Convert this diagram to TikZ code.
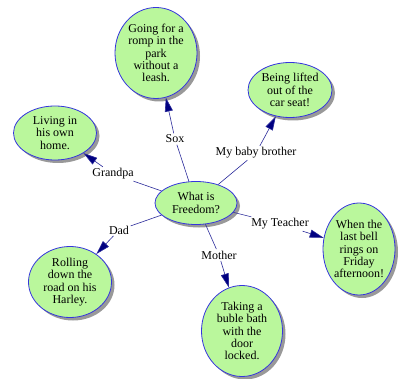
\documentclass[tikz,border=0pt]{standalone}
\usepackage{fontspec}
\setmainfont{Liberation Serif}
\usetikzlibrary{shapes.geometric,shadows,arrows.meta}
\definecolor{bubfill}{HTML}{BAF79C}
\definecolor{bubdraw}{HTML}{3535DD}
\definecolor{linkcol}{HTML}{2A2A9A}
\definecolor{tipcol}{HTML}{000080}
\tikzset{
  bubble/.style={ellipse, draw=bubdraw, line width=0.8pt, fill=bubfill, inner sep=0pt,
    align=center, font=\fontsize{12}{12.3}\selectfont,
    drop shadow={shadow xshift=3pt, shadow yshift=-3pt, fill=black!40, opacity=1}},
  linklabel/.style={inner sep=1.5pt, font=\fontsize{12}{12.3}\selectfont},
  link/.style={draw=linkcol, line width=0.6pt},
  arrowlink/.style={link, -{Triangle[length=14pt,width=8pt,fill=tipcol]}}
}
\begin{document}
\begin{tikzpicture}[x=1pt,y=-1pt]
\useasboundingbox (0,0) rectangle (398,379);
\node[bubble, minimum width=82pt, minimum height=43pt] (center) at (196,203) {What is\\Freedom?};
\node[bubble, minimum width=82pt, minimum height=91pt] (sox) at (156,53) {Going for a\\romp in the\\park\\without a\\leash.};
\node[bubble, minimum width=83pt, minimum height=54pt] (grandpa) at (55,133) {Living in\\his own\\home.};
\node[bubble, minimum width=84pt, minimum height=55pt] (baby) at (290,90) {Being lifted\\out of the\\car seat!};
\node[bubble, minimum width=83pt, minimum height=71pt] (dad) at (70,282) {Rolling\\down the\\road on his\\Harley.};
\node[bubble, minimum width=72pt, minimum height=92pt] (teacher) at (359,249) {When the\\last bell\\rings on\\Friday\\afternoon!};
\node[bubble, minimum width=81pt, minimum height=91pt] (mother) at (242,331) {Taking a\\buble bath\\with the\\door\\locked.};

\node[linklabel] (lsox) at (175,139) {Sox};
\node[linklabel] (lgrandpa) at (113,174) {Grandpa};
\node[linklabel] (lbaby) at (256,153) {My baby brother};
\node[linklabel] (ldad) at (119,230) {Dad};
\node[linklabel] (lteacher) at (280,224) {My Teacher};
\node[linklabel] (lmother) at (219,255) {Mother};

\draw[link] (center) -- (lsox);
\draw[arrowlink] (lsox) -- (sox);
\draw[link] (center) -- (lgrandpa);
\draw[arrowlink] (lgrandpa) -- (grandpa);
\draw[link] (center) -- (lbaby);
\draw[arrowlink] (lbaby) -- (baby);
\draw[link] (center) -- (ldad);
\draw[arrowlink] (ldad) -- (dad);
\draw[link] (center) -- (lteacher);
\draw[arrowlink] (lteacher) -- (teacher);
\draw[link] (center) -- (lmother);
\draw[arrowlink] (lmother) -- (mother);
\end{tikzpicture}
\end{document}
